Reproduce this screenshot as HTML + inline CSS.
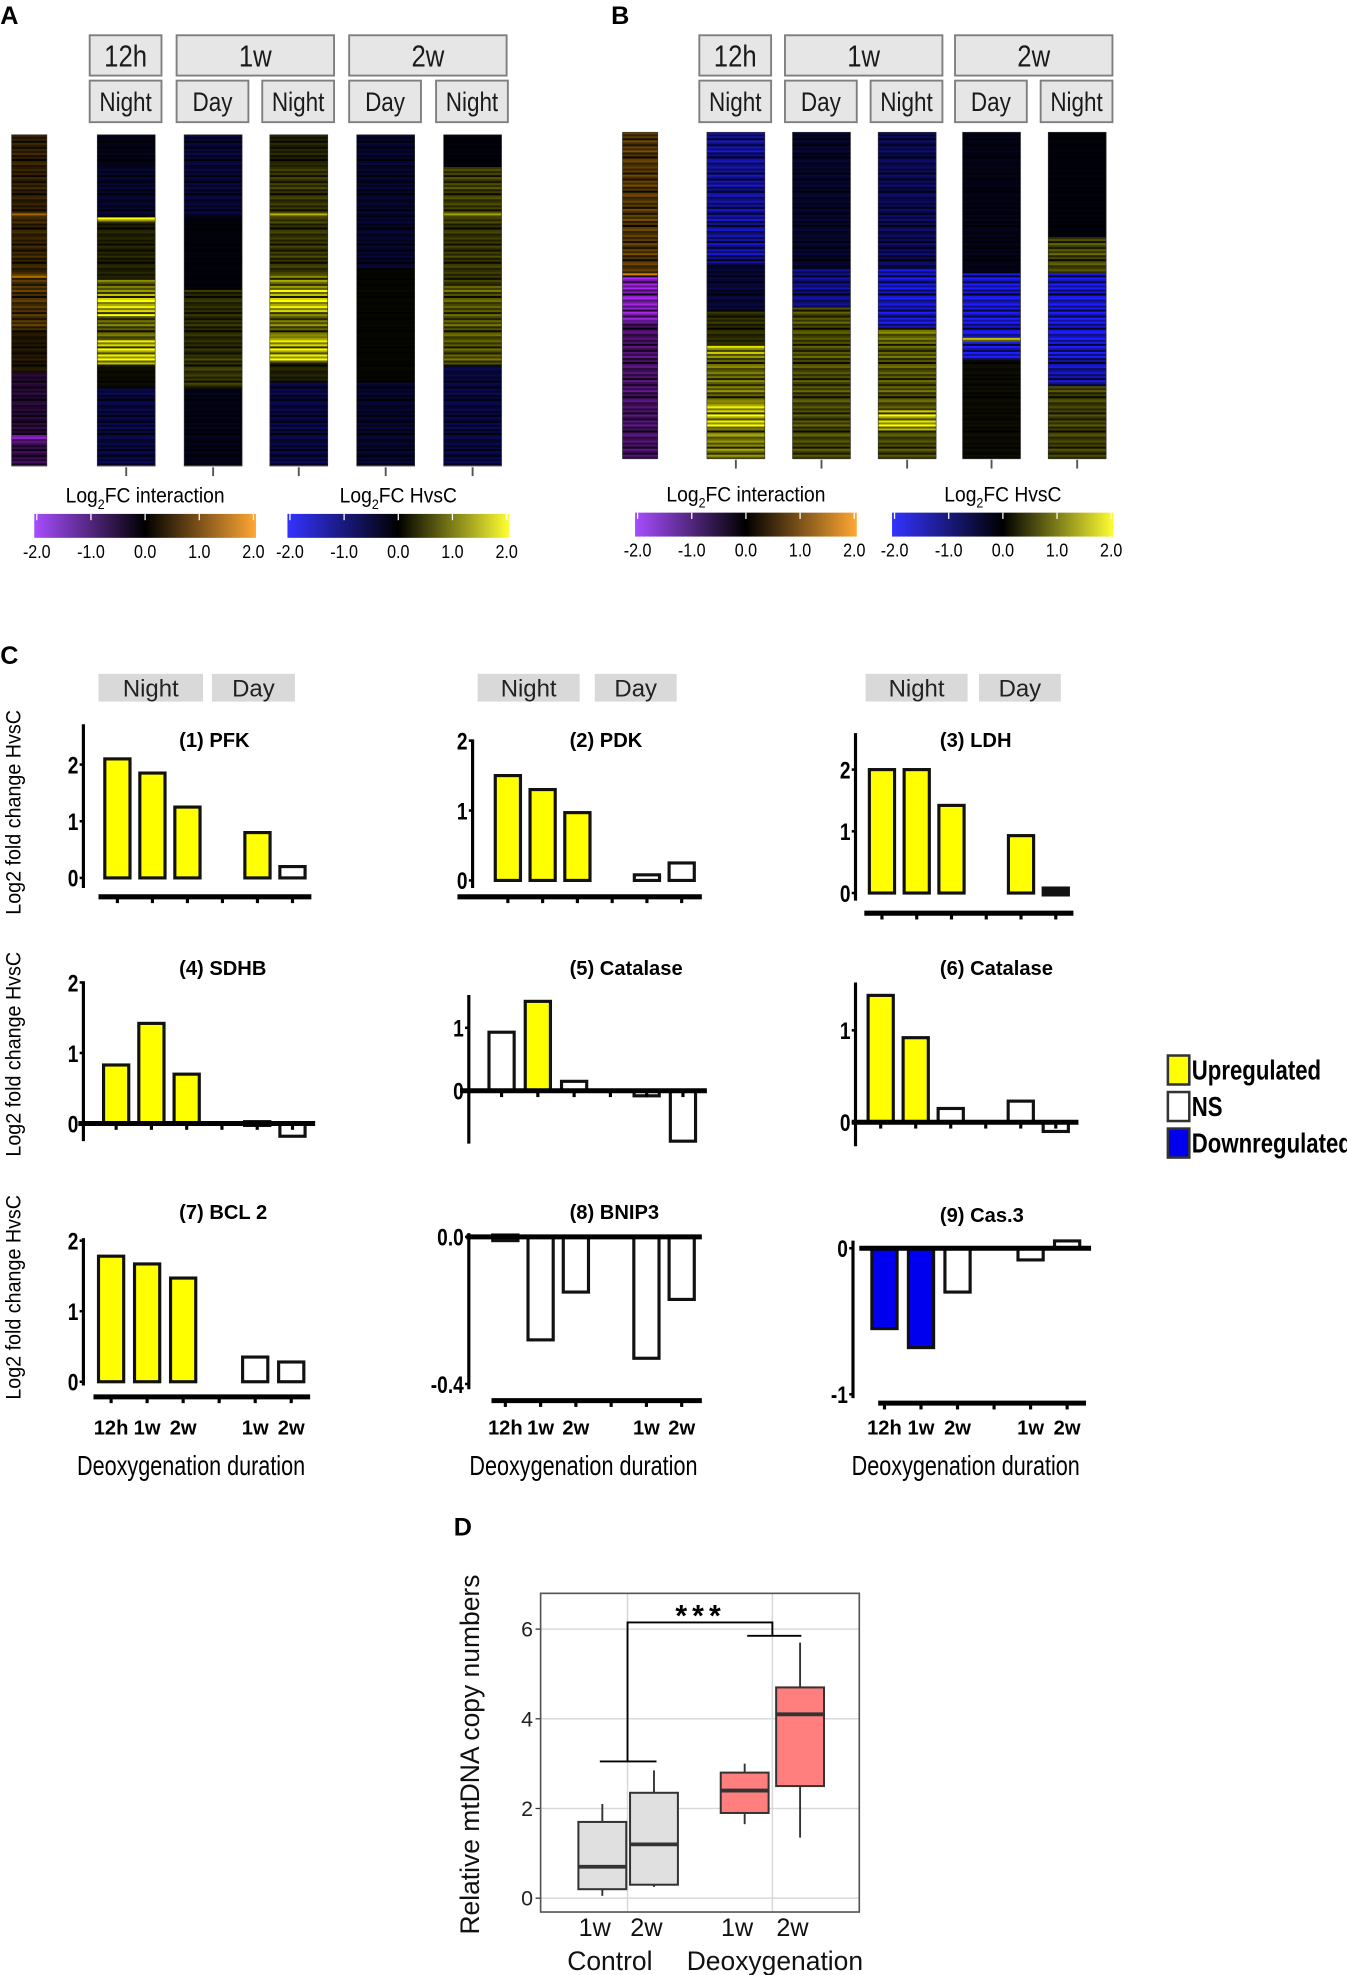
<!DOCTYPE html>
<html><head><meta charset="utf-8"><style>
html,body{margin:0;padding:0;background:#fff;}
svg{display:block;}
text{font-family:"Liberation Sans",sans-serif;}
.n{font-family:"Liberation Sans Narrow","Liberation Sans",sans-serif;}
</style></head><body>
<svg id="fig" width="1347" height="1975" viewBox="0 0 1069 1568" xmlns="http://www.w3.org/2000/svg">
<defs>
<linearGradient id="gInt" x1="0" x2="1"><stop offset="0" stop-color="#a64dff"/><stop offset="0.5" stop-color="#000"/><stop offset="1" stop-color="#ffa733"/></linearGradient>
<linearGradient id="gHvc" x1="0" x2="1"><stop offset="0" stop-color="#3333ff"/><stop offset="0.5" stop-color="#000"/><stop offset="1" stop-color="#ffff33"/></linearGradient>
</defs>
<g id="root"></g>
</svg>
<script>
// ---------- Heatmap data (segments: [fraction, log2FC]) ----------
const hmA_int=[[0.24,0.45],[0.01,1.8],[0.17,0.5],[0.02,1.5],[0.16,0.7],[0.12,0.3],[0.18,-0.5],[0.03,-1.5],[0.07,-0.7]];
const hmA_12hN=[[0.09,-0.2],[0.16,-0.4],[0.01,2],[0.17,0.3],[0.05,1.0],[0.07,1.9],[0.07,0.9],[0.08,1.9],[0.06,0.1],[0.24,-0.6]];
const hmA_1wD=[[0.25,-0.5],[0.22,-0.1],[0.2,0.4],[0.1,0.5],[0.23,-0.2]];
const hmA_1wN=[[0.09,0.3],[0.15,0.5],[0.01,2],[0.17,0.5],[0.05,1.2],[0.07,1.9],[0.07,1.0],[0.08,1.9],[0.06,0.3],[0.25,-0.6]];
const hmA_2wD=[[0.4,-0.4],[0.35,0.05],[0.25,-0.4]];
const hmA_2wN=[[0.1,-0.1],[0.14,0.6],[0.01,1.8],[0.2,0.5],[0.25,0.8],[0.3,-0.6]];
const hmB_int=[[0.43,0.8],[0.01,1.8],[0.14,-1.9],[0.42,-1.0]];
const hmB_12hN=[[0.4,-1.4],[0.15,-0.5],[0.1,0.4],[0.03,1.6],[0.15,1.0],[0.08,1.9],[0.09,1.2]];
const hmB_1wD=[[0.42,-0.4],[0.12,-1.2],[0.46,0.7]];
const hmB_1wN=[[0.42,-0.8],[0.18,-1.8],[0.05,1.0],[0.2,0.8],[0.07,1.8],[0.08,0.7]];
const hmB_2wD=[[0.43,-0.2],[0.2,-2],[0.01,1.5],[0.06,-2],[0.3,0.1]];
const hmB_2wN=[[0.32,-0.1],[0.11,0.7],[0.25,-2],[0.1,-1.6],[0.22,0.6]];
const texture=[1,0.5,0.9,0.2,1.1,0.7,0.3,1,0.6,1.2,0.4,0.8,0.1,0.9,1.1,0.5,0.7];
const cbTicks=["-2.0","-1.0","0.0","1.0","2.0"];

// ---------- Bar chart data ----------
const barLabels=["12h","1w","2w","1w","2w"];
const barSlots=[0,1,2,4,5];
const vals1=[2.1,1.85,1.25,0.8,0.2],   st1=["U","U","U","U","N"];
const vals2=[1.5,1.3,0.97,0.08,0.25],  st2=["U","U","U","N","N"];
const vals3=[2.0,2.0,1.42,0.93,0.05],  st3=["U","U","U","U","K"];
const vals4=[0.83,1.42,0.7,0,-0.18],   st4=["U","U","U","N","N"];
const vals5=[0.93,1.42,0.15,-0.08,-0.8],st5=["N","U","N","N","N"];
const vals6=[1.38,0.92,0.15,0.23,-0.1],st6=["U","U","N","N","N"];
const vals7=[1.78,1.67,1.47,0.35,0.28],st7=["U","U","U","N","N"];
const vals8=[-0.005,-0.28,-0.15,-0.33,-0.17],st8=["N","N","N","N","N"];
const vals9=[-0.55,-0.68,-0.3,-0.08,0.05],st9=["D","D","N","N","N"];
const ticks1=[0,1,2],ticks5=[0,1],ticks8=["0.0","-0.4"],ticks9=[0,-1];
const geneTitles=["(1)  PFK","(2)  PDK","(3)  LDH","(4)  SDHB","(5)  Catalase","(6)  Catalase","(7)  BCL 2","(8)  BNIP3","(9)  Cas.3"];

// ---------- Box plot data ----------
const boxGroups=["1w","2w","1w","2w"];
const boxLo=[0.05,0.25,1.65,1.35], boxQ1=[0.2,0.3,1.9,2.5], boxMed=[0.7,1.2,2.4,4.1], boxQ3=[1.7,2.35,2.8,4.7], boxHi=[2.1,2.85,3.0,5.7];
const boxTicks=[0,2,4,6];

const NS="http://www.w3.org/2000/svg";
const root=document.getElementById('root');
function mk(tag,attrs,parent,txt){const e=document.createElementNS(NS,tag);for(const k in attrs)e.setAttribute(k,attrs[k]);if(txt!==undefined)e.textContent=txt;(parent||root).appendChild(e);return e;}

function hcol(v,pos,neg){v=Math.max(-2,Math.min(2,v));const t=Math.abs(v)/2;const c=v>=0?pos:neg;return `rgb(${Math.round(c[0]*t)},${Math.round(c[1]*t)},${Math.round(c[2]*t)})`;}

function heat(segs,x,y,w,h,pos,neg,name){
  const g=mk('g',{});
  
  
  const sh=1.6;const n=Math.round(h/sh);
  let si=0,segEnd=segs[0][0];
  for(let i=0;i<n;i++){
    const f=(i+0.5)/n;
    while(f>segEnd&&si<segs.length-1){si++;segEnd+=segs[si][0];}
    const v=segs[si][1]*texture[i%texture.length];
    mk('rect',{x:x,y:y+i*sh,width:w,height:sh+0.3,fill:hcol(v,pos,neg)},g);
  }
  mk('rect',{x:x,y:y,width:w,height:h,fill:'none',stroke:'#333','stroke-width':0.5},g);
}
const YEL=[255,255,0],BLU=[30,30,255],ORA=[255,165,0],PUR=[170,40,240];

function box(x,y,w,h,label,size,name){
  const r=mk('rect',{x:x,y:y,width:w,height:h,fill:'#e6e6e6',stroke:'#7f7f7f','stroke-width':1.5});
  
  
  const cx=x+w/2;
  mk('text',{x:cx,y:y+h/2+size*0.36,'font-size':size,'text-anchor':'middle',fill:'#1a1a1a',transform:`translate(${cx},0) scale(0.85,1) translate(${-cx},0)`},null,label);
}

function panelHeat(p,label,lx,hy,hh,intX,cols,datas,intData){
  mk('text',{x:lx,y:19,'font-size':20,'font-weight':'bold'},null,label);
  box(cols[0]-6,28,57,32,'12h',24,'strip-12h');
  box(cols[1]-6,28,125,32,'1w',24,'strip-1w');
  box(cols[3]-6,28,125,32,'2w',24,'strip-2w');
  const sub=['Night','Day','Night','Day','Night'];
  for(let i=0;i<5;i++){box(cols[i]-6,64,57,33,sub[i],21,'strip-'+sub[i].toLowerCase());}
  heat(intData,intX,hy,28,hh,ORA,PUR,'interaction-heatmap-'+p);
  for(let i=0;i<5;i++){
    heat(datas[i],cols[i],hy,46,hh,YEL,BLU,'hvsc-heatmap-'+p+'-'+i);
    mk('line',{x1:cols[i]+23,x2:cols[i]+23,y1:hy+hh+1,y2:hy+hh+8,stroke:'#555','stroke-width':1.5});
  }
}
panelHeat('a','A',0,107,263,9,[77,146,214,283,352],[hmA_12hN,hmA_1wD,hmA_1wN,hmA_2wD,hmA_2wN],hmA_int);
panelHeat('b','B',485,105,259,494,[561,629,697,764,832],[hmB_12hN,hmB_1wD,hmB_1wN,hmB_2wD,hmB_2wN],hmB_int);

function colorbar(x,y,grad,titleRest,name){
  const cx=x+88;
  const t=mk('text',{x:cx,y:y-3,'font-size':17,'text-anchor':'middle',transform:`translate(${cx},0) scale(0.9,1) translate(${-cx},0)`});
  mk('tspan',{},t,'Log');mk('tspan',{'font-size':11,dy:5},t,'2');mk('tspan',{dy:-5},t,titleRest);
  const r=mk('rect',{x:x,y:y+6,width:176,height:19,fill:'url(#'+grad+')'});
  
  
  for(let i=0;i<5;i++){
    const tx=x+2+i*43;
    mk('line',{x1:tx,x2:tx,y1:y+6,y2:y+11,stroke:'#fff','stroke-width':1});
    mk('text',{x:tx,y:y+41,'font-size':15,'text-anchor':'middle',transform:`translate(${tx},0) scale(0.85,1) translate(${-tx},0)`},null,cbTicks[i]);
  }
}
colorbar(27,402,'gInt','FC interaction','colorbar-interaction-a');
colorbar(228,402,'gHvc','FC HvsC','colorbar-hvsc-a');
colorbar(504,401,'gInt','FC interaction','colorbar-interaction-b');
colorbar(708,401,'gHvc','FC HvsC','colorbar-hvsc-b');

// ---------- Panel C ----------
mk('text',{x:0,y:527,'font-size':20,'font-weight':'bold'},null,'C');
[[78,83,'Night'],[168,66,'Day'],[379,81,'Night'],[472,65,'Day'],[687,81,'Night'],[777,65,'Day']].forEach(b=>{
  const r=mk('rect',{x:b[0],y:535,width:b[1],height:22,fill:'#d9d9d9'});
  
  
  mk('text',{x:b[0]+b[1]/2,y:553,'font-size':19,'text-anchor':'middle',fill:'#222'},null,b[2]);
});
const FILL={U:'#ffff00',N:'#ffffff',D:'#0000ee',K:'#111'};
const charts=[
 {v:vals1,s:st1,ax:66,y0:697,ppu:45,yT:575,yB:705,hy:712,hx0:78,hx1:247,s0:93,sw:27.8,tk:ticks1,tl:ticks1,tx:142,ty:593,zero:false},
 {v:vals2,s:st2,ax:375,y0:699,ppu:55.5,yT:587,yB:705,hy:712,hx0:363,hx1:557,s0:403,sw:27.6,tk:ticks1,tl:ticks1,tx:452,ty:593,zero:false},
 {v:vals3,s:st3,ax:679,y0:709,ppu:49,yT:582,yB:715,hy:725,hx0:686,hx1:852,s0:700,sw:27.6,tk:ticks1,tl:ticks1,tx:746,ty:593,zero:false},
 {v:vals4,s:st4,ax:66,y0:892,ppu:56,yT:779,yB:906,hy:892,hx0:62,hx1:250,s0:92,sw:28,tk:ticks1,tl:ticks1,tx:142,ty:774,zero:true},
 {v:vals5,s:st5,ax:372,y0:866,ppu:50,yT:790,yB:908,hy:866,hx0:365,hx1:561,s0:398,sw:28.8,tk:ticks5,tl:ticks5,tx:452,ty:774,zero:true},
 {v:vals6,s:st6,ax:679,y0:891,ppu:73,yT:780,yB:910,hy:891,hx0:676,hx1:856,s0:699,sw:27.8,tk:ticks5,tl:ticks5,tx:746,ty:774,zero:true},
 {v:vals7,s:st7,ax:66,y0:1097,ppu:56,yT:983,yB:1100,hy:1109,hx0:74,hx1:246,s0:88,sw:28.6,tk:ticks1,tl:ticks1,tx:142,ty:968,zero:false,xl:true},
 {v:vals8,s:st8,ax:372,y0:982,ppu:292,yT:979,yB:1103,hy:1112,hx0:390,hx1:557,s0:401,sw:28,tk:[0,-0.4],tl:ticks8,tx:452,ty:968,zero:true,zx0:370,zx1:557,xl:true},
 {v:vals9,s:st9,ax:677,y0:991,ppu:116,yT:985,yB:1110,hy:1114,hx0:697,hx1:862,s0:702,sw:29,tk:[0,-1],tl:ticks9,tx:746,ty:970,zero:true,zx0:682,zx1:866,xl:true}
];
charts.forEach((c,ci)=>{
  const g=mk('g',{});
  
  
  const Y=v=>c.y0-v*c.ppu;
  const X=i=>c.s0+barSlots[i]*c.sw;
  mk('text',{x:c.tx,y:c.ty,'font-size':16,'font-weight':'bold'},g,geneTitles[ci]);
  c.v.forEach((v,i)=>{
    let y1=Y(Math.max(v,0)),y2=Y(Math.min(v,0));
    if(y2-y1<3){y1-=1.5;y2+=1.5;}
    const r=mk('rect',{x:X(i)-10,y:y1,width:20,height:y2-y1,fill:FILL[c.s[i]],stroke:'#111','stroke-width':2.5},g);
    
    
  });
  mk('line',{x1:c.ax,x2:c.ax,y1:c.yT,y2:c.yB,stroke:'#000','stroke-width':2.5},g);
  c.tk.forEach((t,i)=>{
    mk('line',{x1:c.ax-3,x2:c.ax,y1:Y(t),y2:Y(t),stroke:'#000','stroke-width':2},g);
    const lx=c.ax-4;
    mk('text',{x:lx,y:Y(t)+7,'font-size':19,'font-weight':'bold','text-anchor':'end',transform:`translate(${lx},0) scale(0.8,1) translate(${-lx},0)`},g,String(c.tl[i]));
  });
  if(c.zero&&c.zx0){mk('line',{x1:c.zx0,x2:c.zx1,y1:c.y0,y2:c.y0,stroke:'#000','stroke-width':4},g);}
  mk('line',{x1:c.hx0,x2:c.hx1,y1:c.hy,y2:c.hy,stroke:'#000','stroke-width':4},g);
  for(let k=0;k<6;k++){const tx=c.s0+k*c.sw;mk('line',{x1:tx,x2:tx,y1:c.hy,y2:c.hy+5,stroke:'#000','stroke-width':2.5},g);}
  if(c.xl){
    barLabels.forEach((l,i)=>mk('text',{x:X(i),y:1139,'font-size':16,'font-weight':'bold','text-anchor':'middle'},g,l));
    const cx=c.s0+2.5*c.sw-8;
    mk('text',{x:cx,y:1171,'font-size':22,'text-anchor':'middle',transform:`translate(${cx},0) scale(0.78,1) translate(${-cx},0)`},g,'Deoxygenation duration');
  }
});
[645,837,1030].forEach(cy=>{
  const t=mk('text',{x:0,y:0,'font-size':17,'text-anchor':'middle',transform:`translate(16,${cy}) rotate(-90) scale(0.92,1)`},null,'Log2 fold change HvsC');
  
  
});
[['#ffff00','Upregulated',838],['#ffffff','NS',867],['#0000ee','Downregulated',896]].forEach(l=>{
  const g=mk('g',{});
  
  
  mk('rect',{x:927,y:l[2],width:17,height:23,fill:l[0],stroke:'#333','stroke-width':2},g);
  mk('text',{x:946,y:l[2]+19,'font-size':22,'font-weight':'bold',transform:`translate(946,0) scale(0.8,1) translate(-946,0)`},g,l[1]);
});

// ---------- Panel D ----------
mk('text',{x:360,y:1219,'font-size':20,'font-weight':'bold'},null,'D');
const bg=mk('g',{});


const PX0=429,PX1=682,PY0=1265,PY1=1518;
const BY=v=>1507-v*35.6;
const bCenters=[478,519,591,635];
mk('rect',{x:PX0,y:PY0,width:PX1-PX0,height:PY1-PY0,fill:'#fff'},bg);
boxTicks.forEach(t=>{
  mk('line',{x1:PX0,x2:PX1,y1:BY(t),y2:BY(t),stroke:'#d9d9d9','stroke-width':1.2},bg);
  mk('line',{x1:PX0-4,x2:PX0,y1:BY(t),y2:BY(t),stroke:'#333','stroke-width':1},bg);
  mk('text',{x:PX0-6,y:BY(t)+6,'font-size':17,'text-anchor':'end',fill:'#222'},bg,String(t));
});
[498,613].forEach(x=>mk('line',{x1:x,x2:x,y1:PY0,y2:PY1,stroke:'#d9d9d9','stroke-width':1.2},bg));
boxGroups.forEach((g,i)=>{
  const cx=bCenters[i],f=i<2?'#e0e0e0':'#ff7f7f';
  mk('line',{x1:cx,x2:cx,y1:BY(boxHi[i]),y2:BY(boxLo[i]),stroke:'#333','stroke-width':1.5},bg);
  const r=mk('rect',{x:cx-19,y:BY(boxQ3[i]),width:38,height:BY(boxQ1[i])-BY(boxQ3[i]),fill:f,stroke:'#333','stroke-width':1.6},bg);
  
  
  mk('line',{x1:cx-19,x2:cx+19,y1:BY(boxMed[i]),y2:BY(boxMed[i]),stroke:'#333','stroke-width':3},bg);
  mk('text',{x:cx-6,y:1537,'font-size':20,'text-anchor':'middle',fill:'#111'},bg,g);
});
mk('rect',{x:PX0,y:PY0,width:PX1-PX0,height:PY1-PY0,fill:'none',stroke:'#555','stroke-width':1.3},bg);
mk('line',{x1:476,x2:521,y1:BY(3.05),y2:BY(3.05),stroke:'#000','stroke-width':1.5},bg);
mk('polyline',{points:`498,${BY(3.05)} 498,${BY(6.15)} 613,${BY(6.15)} 613,${BY(5.85)}`,fill:'none',stroke:'#000','stroke-width':1.5},bg);
mk('line',{x1:593,x2:636,y1:BY(5.85),y2:BY(5.85),stroke:'#000','stroke-width':1.5},bg);
mk('text',{x:556,y:1291,'font-size':24,'font-weight':'bold','text-anchor':'middle','letter-spacing':4},bg,'***');
mk('text',{x:484,y:1564,'font-size':21,'text-anchor':'middle',fill:'#111'},bg,'Control');
mk('text',{x:615,y:1564,'font-size':21,'text-anchor':'middle',fill:'#111'},bg,'Deoxygenation');
const yt=mk('text',{x:0,y:0,'font-size':21,'text-anchor':'middle',fill:'#111',transform:'translate(380,1393) rotate(-90)'},bg,'Relative mtDNA copy numbers');


</script>
</body></html>
